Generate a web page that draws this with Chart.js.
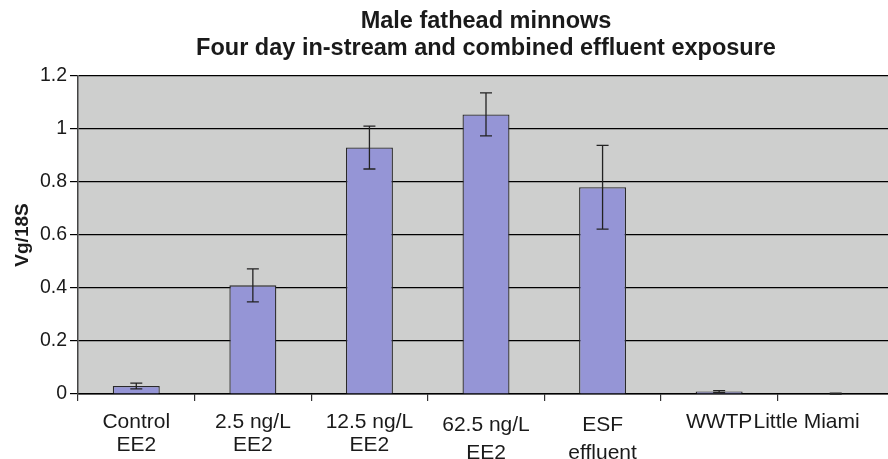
<!DOCTYPE html>
<html>
<head>
<meta charset="utf-8">
<script src="https://cdn.jsdelivr.net/npm/chart.js@4.4.1/dist/chart.umd.min.js"></script>
<style>
  html, body { margin: 0; padding: 0; background: #ffffff; overflow: hidden; }
  #wrap { width: 896px; height: 459px; }
</style>
</head>
<body>
<div id="wrap"><canvas id="c" width="896" height="459"></canvas></div>
<script>
// ---- data ----
const categories = [
  ["Control", "EE2"],
  ["2.5 ng/L", "EE2"],
  ["12.5 ng/L", "EE2"],
  ["62.5 ng/L", "EE2"],
  ["ESF", "effluent"],
  "WWTP",
  "Little Miami"
];
const vgValues = [0.030, 0.410, 0.930, 1.055, 0.780, 0.009, 0.000];
const vgErrors = [0.011, 0.062, 0.081, 0.081, 0.158, 0.004, 0.003];
const titleLines = ["Male fathead minnows", "Four day in-stream and combined effluent exposure"];
const yAxisTitle = "Vg/18S";
const yMin = 0, yMax = 1.2, yStep = 0.2;

const FONT = "'Liberation Sans', Arial, Helvetica, sans-serif";
const TEXT = "#1a1a1a";

const plotBg = {
  id: 'plotBg',
  beforeDraw(chart) {
    const a = chart.chartArea, ctx = chart.ctx;
    ctx.save();
    ctx.fillStyle = '#cecfce';
    ctx.fillRect(a.left, a.top, a.right - a.left, a.bottom - a.top);
    ctx.restore();
  }
};

const errorBars = {
  id: 'errorBars',
  afterDatasetsDraw(chart) {
    const ctx = chart.ctx;
    const meta = chart.getDatasetMeta(0);
    const y = chart.scales.y;
    ctx.save();
    ctx.strokeStyle = '#222';
    ctx.lineWidth = 1.3;
    meta.data.forEach((bar, i) => {
      const v = vgValues[i], e = vgErrors[i];
      const x = bar.x;
      const yt = y.getPixelForValue(v + e);
      const yb = y.getPixelForValue(Math.max(0, v - e));
      const cap = 6;
      ctx.beginPath();
      ctx.moveTo(x, yt); ctx.lineTo(x, yb);
      ctx.moveTo(x - cap, yt); ctx.lineTo(x + cap, yt);
      ctx.moveTo(x - cap, yb); ctx.lineTo(x + cap, yb);
      ctx.stroke();
    });
    ctx.restore();
  }
};

new Chart(document.getElementById('c'), {
  type: 'bar',
  data: {
    labels: categories,
    datasets: [{
      data: vgValues,
      backgroundColor: '#9595d6',
      borderColor: '#2a2a2a',
      borderWidth: 1.3,
      borderSkipped: 'bottom',
      barPercentage: 0.403,
      categoryPercentage: 1.0
    }]
  },
  options: {
    responsive: false,
    animation: false,
    devicePixelRatio: 1,
    layout: { padding: { left: 0, right: 2, top: 0, bottom: 0 } },
    plugins: {
      legend: { display: false },
      tooltip: { enabled: false },
      title: {
        display: true,
        text: titleLines,
        fullSize: false,
        color: TEXT,
        font: { family: FONT, size: 23.5, weight: 'bold', lineHeight: 27 / 23.5 },
        padding: { top: 8, bottom: 14 }
      }
    },
    scales: {
      x: {
        afterFit(scale) {
          scale.height = 65;
          scale.paddingLeft = 0;
          scale.paddingRight = 0;
        },
        grid: { offset: true, drawOnChartArea: false, tickLength: 7, color: '#333', lineWidth: 1.2 },
        border: { display: true, color: '#000', width: 1.5 },
        ticks: {
          color: TEXT,
          padding: 10,
          maxRotation: 0,
          autoSkip: false,
          // the last label sits shifted left in the reference (it butts against "WWTP")
          callback: function (value, index) {
            const lab = categories[index];
            return index === categories.length - 1 ? lab + '          ' : lab;
          },
          font: (ctx) => ({
            family: FONT,
            size: 21,
            lineHeight: (ctx.index === 3 || ctx.index === 4) ? 28 / 21 : 22.5 / 21
          })
        }
      },
      y: {
        min: yMin,
        max: yMax,
        afterFit(scale) { scale.width = 78; },
        grid: { color: '#000', lineWidth: 1.2, tickLength: 8 },
        border: { display: true, color: '#444', width: 1.5 },
        ticks: {
          stepSize: yStep,
          color: TEXT,
          padding: 3,
          font: { family: FONT, size: 19.5 },
          callback: (v) => String(Math.round(v * 10) / 10)
        },
        title: {
          display: true,
          text: yAxisTitle,
          color: TEXT,
          font: { family: FONT, size: 19, weight: 'bold', lineHeight: 1.2 },
          padding: { top: 11.5, bottom: 0 }
        }
      }
    }
  },
  plugins: [plotBg, errorBars]
});
</script>
</body>
</html>
